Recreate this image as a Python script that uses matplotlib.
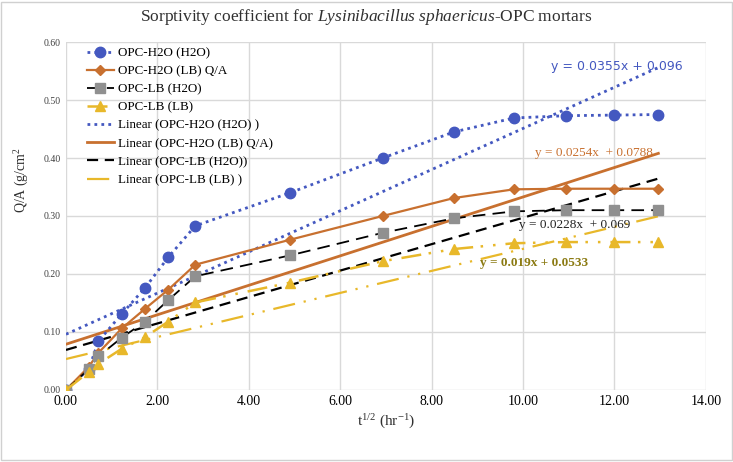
import numpy as np
import matplotlib.pyplot as plt
from matplotlib.patches import Rectangle

# sqrt of time (hr^1/2)
t_sqrt = [0.0, 0.5, 0.71, 1.22, 1.73, 2.24, 2.83, 4.90, 6.93, 8.49, 9.80, 10.95, 12.0, 12.96]

h2o_h2o = [0.0, 0.036, 0.084, 0.131, 0.176, 0.229, 0.283, 0.340, 0.400, 0.445, 0.469, 0.473, 0.474, 0.475]
h2o_lb = [0.0, 0.040, 0.064, 0.106, 0.140, 0.173, 0.216, 0.259, 0.300, 0.331, 0.346, 0.347, 0.347, 0.347]
lb_h2o = [0.0, 0.036, 0.058, 0.090, 0.118, 0.155, 0.196, 0.232, 0.271, 0.296, 0.308, 0.310, 0.310, 0.310]
lb_lb = [0.0, 0.031, 0.045, 0.071, 0.091, 0.118, 0.151, 0.185, 0.222, 0.243, 0.253, 0.255, 0.255, 0.255]

# trendline coefficients (slope, intercept) as printed on the chart
fit_h2o_h2o = (0.0355, 0.096)
fit_h2o_lb = (0.0254, 0.0788)
fit_lb_h2o = (0.0228, 0.069)
fit_lb_lb = (0.019, 0.0533)

blue = '#4458C0'
orange = '#C8702F'
gray = '#909090'
yellow = '#E8B82A'

plt.rcParams['font.family'] = ['Liberation Serif', 'DejaVu Serif']
plt.rcParams['mathtext.fontset'] = 'custom'
plt.rcParams['mathtext.rm'] = 'Liberation Serif'
plt.rcParams['mathtext.it'] = 'Liberation Serif:italic'

fig = plt.figure(figsize=(7.33, 4.62), dpi=100)
ax = fig.add_axes([0.090, 0.156, 0.873, 0.753])

x = np.array(t_sqrt)
xt = np.array([0.0, t_sqrt[-1]])

ax.plot(x, h2o_h2o, color=blue, ls=(0, (1, 1.5)), lw=2, marker='o', ms=7.5,
        label='OPC-H2O (H2O)', zorder=5)
ax.plot(x, h2o_lb, color=orange, lw=1.6, marker='D', ms=5,
        label='OPC-H2O (LB) Q/A', zorder=5)
ax.plot(x, lb_h2o, color='black', ls=(0, (7, 4)), lw=1.3, marker='s', ms=6.5,
        mfc=gray, mec=gray, label='OPC-LB (H2O)', zorder=5)
ax.plot(x, lb_lb, color=yellow, ls=(0, (8, 3, 1, 4, 1, 4)), lw=1.8, marker='^', ms=7.5,
        label='OPC-LB (LB)', zorder=5)

ax.plot(xt, fit_h2o_h2o[0] * xt + fit_h2o_h2o[1], color=blue, ls=(0, (1, 1.5)), lw=2,
        label='Linear (OPC-H2O (H2O) )', zorder=4)
ax.plot(xt, fit_h2o_lb[0] * xt + fit_h2o_lb[1], color=orange, lw=2,
        label='Linear (OPC-H2O (LB) Q/A)', zorder=4)
ax.plot(xt, fit_lb_h2o[0] * xt + fit_lb_h2o[1], color='black', ls=(0, (5, 3)), lw=1.6,
        label='Linear (OPC-LB (H2O))', zorder=4)
ax.plot(xt, fit_lb_lb[0] * xt + fit_lb_lb[1], color=yellow, ls=(0, (10, 4, 1, 4, 1, 4)), lw=1.6,
        label='Linear (OPC-LB (LB) )', zorder=4)

# trendline equations
ax.text(12.05, 0.557, 'y = 0.0355x + 0.096', color=blue, fontsize=9,
        family='DejaVu Sans', ha='center', va='center', zorder=6)
ax.text(11.55, 0.409, 'y = 0.0254x  + 0.0788', color=orange, fontsize=9.5,
        ha='center', va='center', zorder=6)
ax.text(11.13, 0.284, 'y = 0.0228x  + 0.069', color='#202020', fontsize=9.5,
        ha='center', va='center', zorder=6)
ax.text(10.24, 0.219, 'y = 0.019x + 0.0533', color='#8B7A12', fontsize=9.5,
        fontweight='bold', ha='center', va='center', zorder=6)

ax.set_xlim(0, 14)
ax.set_ylim(0, 0.6)
ax.set_xticks(np.arange(0, 14.01, 2))
ax.set_yticks(np.arange(0, 0.601, 0.1))
ax.set_xticklabels(['%.2f' % v for v in np.arange(0, 14.01, 2)], fontsize=10)
ax.set_yticklabels(['%.2f' % v for v in np.arange(0, 0.601, 0.1)], fontsize=7, color='#404040')
ax.tick_params(length=0, pad=4)
ax.grid(True, color='#d9d9d9', lw=1)
ax.set_axisbelow(True)
for s in ax.spines.values():
    s.set_visible(False)

fig.text(0.5, 0.963, 'Sorptivity coefficient for $\\it{Lysinibacillus\\ sphaericus}$-OPC mortars',
         ha='center', va='center', fontsize=12.5, color='#303030')
fig.text(0.527, 0.087, 't$^{1/2}$ (hr$^{-1}$)', ha='center', va='center', fontsize=11, color='#303030')
fig.text(0.030, 0.61, 'Q/A (g/cm$^2$', ha='center', va='center', rotation=90, fontsize=10,
         color='#303030')

ax.legend(loc='upper left', bbox_to_anchor=(0.018, 1.012), frameon=False, fontsize=9.4,
          handlelength=2.1, labelspacing=0.46, handletextpad=0.3, borderaxespad=0.3)

fig.patches.append(Rectangle((0.002, 0.004), 0.996, 0.992, transform=fig.transFigure,
                             fill=False, ec='#d0d0d0', lw=1))

fig.savefig('out.png', dpi=100)
